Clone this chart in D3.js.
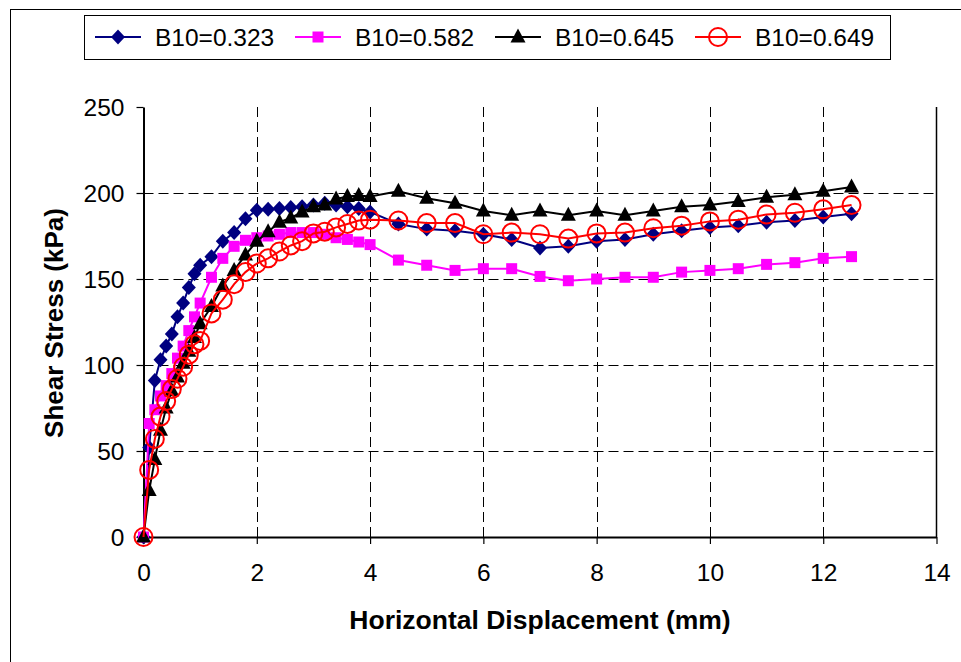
<!DOCTYPE html>
<html>
<head>
<meta charset="utf-8">
<script src="https://cdn.jsdelivr.net/npm/d3@7"></script>
<style>
  body { margin: 0; background: #fff; }
  svg { display: block; font-family: "Liberation Sans", Arial, sans-serif; }
</style>
</head>
<body>
<div id="chart"></div>
<script>
// displacement (mm) shared by all tests
var displacement = [0, 0.1, 0.2, 0.3, 0.4, 0.5, 0.6, 0.7, 0.8, 0.9, 1.0,
  1.2, 1.4, 1.6, 1.8, 2.0, 2.2, 2.4, 2.6, 2.8, 3.0, 3.2, 3.4, 3.6, 3.8, 4.0,
  4.5, 5.0, 5.5, 6.0, 6.5, 7.0, 7.5, 8.0, 8.5, 9.0, 9.5, 10.0, 10.5, 11.0, 11.5, 12.0, 12.5];

// shear stress (kPa)
var stress323 = [0, 52, 91, 103, 111, 118, 128, 136, 145, 153, 158,
  163, 172, 177, 185, 190, 190.5, 191, 191.5, 192, 193, 194, 193, 192, 191, 189,
  182, 179, 178, 176, 173, 168, 169, 172, 173, 176, 178, 180, 181, 183, 184, 186, 188];
var stress582 = [0, 66, 74, 82, 88, 95, 104, 111, 120, 128, 136,
  151, 162, 169, 172.5, 174, 175, 176, 177, 177, 177, 176, 174, 173, 171.5, 170,
  161, 158, 155, 156, 156, 151.5, 149, 150, 151, 151, 154, 155, 156, 158.5, 159.5, 162, 163];
var stress645 = [0, 27, 45, 62, 75, 85, 93, 101, 108, 116, 124,
  134, 146, 155, 164, 172, 177.5, 183, 185.5, 189, 192, 193, 196.5, 198, 198.5, 198,
  201, 197, 194, 189.5, 187, 189.5, 187, 189.5, 187, 189.5, 192, 193, 195, 197.5, 199, 201, 203.5];
var stress649 = [0, 39, 57, 70, 79, 86, 92, 99, 106, 112, 114,
  130, 138, 147, 154, 159, 162, 166, 169.5, 172, 176.5, 177.5, 180, 182, 184, 184.5,
  184, 182.5, 182.5, 176, 177, 176, 173.5, 176.5, 177, 179.5, 181, 183.5, 184.5, 187.5, 188.5, 190.5, 193];

var seriesNames = ["B10=0.323", "B10=0.582", "B10=0.645", "B10=0.649"];
var xTicks = [0, 2, 4, 6, 8, 10, 12, 14];
var yTicks = [0, 50, 100, 150, 200, 250];

var specs = [
  { title: seriesNames[0], values: stress323, color: "#000080", shape: "diamond" },
  { title: seriesNames[1], values: stress582, color: "#ff00ff", shape: "square" },
  { title: seriesNames[2], values: stress645, color: "#000000", shape: "triangle" },
  { title: seriesNames[3], values: stress649, color: "#ff0000", shape: "circle" }
];

function markerPath(shape) {
  var p = d3.path();
  if (shape == "diamond") {
    p.moveTo(0, -7.5); p.lineTo(7, 0); p.lineTo(0, 7.5); p.lineTo(-7, 0); p.closePath();
  } else if (shape == "square") {
    p.rect(-5.5, -5.5, 11, 11);
  } else if (shape == "triangle") {
    p.moveTo(0, -8.5); p.lineTo(7.5, 5.5); p.lineTo(-7.5, 5.5); p.closePath();
  } else {
    p.arc(0, 0, 9, 0, 2 * Math.PI);
  }
  return p.toString();
}

function drawMarker(g, spec) {
  var m = g.append("path").attr("d", markerPath(spec.shape));
  if (spec.shape == "circle")
    m.attr("fill", "none").attr("stroke", spec.color).attr("stroke-width", 2);
  else
    m.attr("fill", spec.color);
  return m;
}

var W = 961, H = 662;
var svg = d3.select("#chart").append("svg").attr("width", W).attr("height", H);

// chart area border
svg.append("rect")
  .attr("x", 10.5).attr("y", 9.5).attr("width", 1000).attr("height", 700)
  .attr("fill", "#fff").attr("stroke", "#000").attr("stroke-width", 1);

var x = d3.scaleLinear().domain([0, 14]).range([143.5, 936.5]);
var y = d3.scaleLinear().domain([0, 250]).range([537, 107]);

// grid
var grid = svg.append("g").attr("stroke", "#000").attr("stroke-width", 1).attr("stroke-dasharray", "10,5");
grid.selectAll(".gx").data(xTicks.filter(d => d > 0 && d < 14)).enter().append("line")
  .attr("x1", d => Math.round(x(d)) + 0.5).attr("x2", d => Math.round(x(d)) + 0.5)
  .attr("y1", y(250)).attr("y2", y(0));
grid.selectAll(".gy").data(yTicks.filter(d => d > 0 && d < 250)).enter().append("line")
  .attr("x1", x(0)).attr("x2", x(14))
  .attr("y1", d => Math.round(y(d)) + 0.5).attr("y2", d => Math.round(y(d)) + 0.5);

// right edge of plot area
svg.append("line")
  .attr("x1", x(14)).attr("x2", x(14)).attr("y1", y(250)).attr("y2", y(0))
  .attr("stroke", "#000").attr("stroke-width", 1.5);

// axes
var xAxis = svg.append("g")
  .attr("transform", "translate(0," + y(0) + ")")
  .call(d3.axisBottom(x).tickValues(xTicks).tickSize(7).tickSizeOuter(0).tickPadding(20));
var yAxis = svg.append("g")
  .attr("transform", "translate(" + x(0) + ",0)")
  .call(d3.axisLeft(y).tickValues(yTicks).tickSize(7).tickSizeOuter(0).tickPadding(12));
[xAxis, yAxis].forEach(function(a) {
  a.select(".domain").attr("stroke-width", 2);
  a.selectAll(".tick line").attr("stroke-width", 1.2);
  a.selectAll(".tick text").attr("font-size", 24.5).attr("font-family", "Liberation Sans, Arial").attr("fill", "#000");
});
xAxis.selectAll(".tick text").attr("dy", "0.71em");
yAxis.selectAll(".tick text").attr("dy", "0.36em");

// axis titles
svg.append("text")
  .attr("x", 540).attr("y", 629)
  .attr("text-anchor", "middle").attr("font-size", 26.5).attr("font-weight", "bold")
  .text("Horizontal Displacement (mm)");
svg.append("text")
  .attr("transform", "translate(63,323) rotate(-90)")
  .attr("text-anchor", "middle").attr("font-size", 26).attr("font-weight", "bold")
  .text("Shear Stress (kPa)");

// series
var line = d3.line().x(d => x(d[0])).y(d => y(d[1]));
specs.forEach(function(spec) {
  var pts = displacement.map((d, i) => [d, spec.values[i]]);
  var g = svg.append("g");
  g.append("path").datum(pts)
    .attr("fill", "none").attr("stroke", spec.color).attr("stroke-width", 2)
    .attr("d", line);
  pts.forEach(function(p) {
    drawMarker(g, spec).attr("transform", "translate(" + x(p[0]) + "," + y(p[1]) + ")");
  });
});

// legend
var legend = svg.append("g");
legend.append("rect")
  .attr("x", 84.5).attr("y", 15.5).attr("width", 806).attr("height", 44)
  .attr("fill", "#fff").attr("stroke", "#000").attr("stroke-width", 1);
specs.forEach(function(spec, i) {
  var lx = 95 + i * 200;
  var e = legend.append("g").attr("transform", "translate(" + lx + ",37)");
  e.append("line").attr("x1", 0).attr("x2", 46).attr("y1", 0).attr("y2", 0)
    .attr("stroke", spec.color).attr("stroke-width", 2);
  drawMarker(e, spec).attr("transform", "translate(23,0)");
  e.append("text").attr("x", 60).attr("y", 0).attr("dy", "0.36em")
    .attr("font-size", 24.5).text(spec.title);
});
</script>
</body>
</html>
